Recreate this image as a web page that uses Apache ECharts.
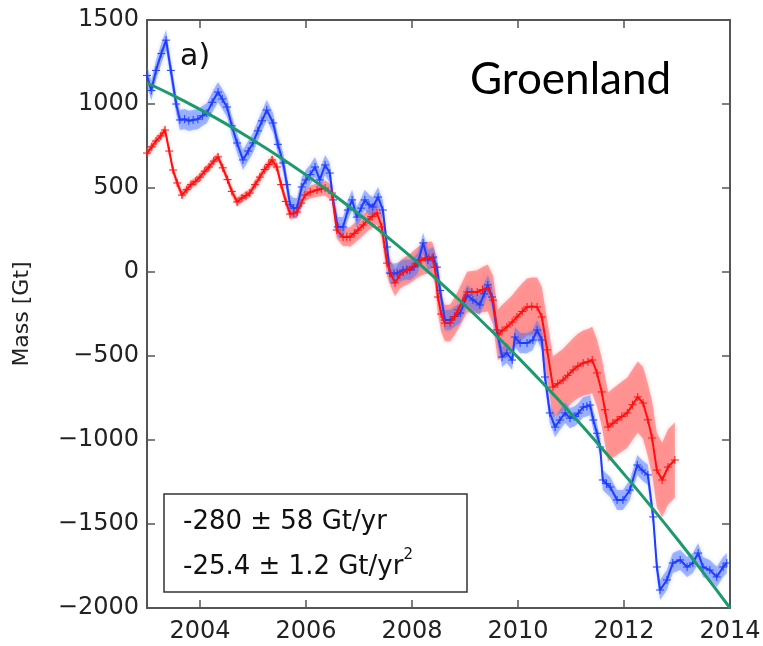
<!DOCTYPE html>
<html>
<head>
<meta charset="utf-8">
<script src="https://cdn.jsdelivr.net/npm/echarts@6/dist/echarts.min.js"></script>
<style>
  html, body { margin: 0; padding: 0; background: #fff; }
  #main { width: 763px; height: 646px; }
</style>
</head>
<body>
<div id="main"></div>
<script>
// values (decimal year, Gt)
var blueYears = [2003.00, 2003.08, 2003.17, 2003.27, 2003.36, 2003.45, 2003.55, 2003.62, 2003.71, 2003.79, 2003.87, 2003.96,
  2004.05, 2004.13, 2004.23, 2004.34, 2004.42, 2004.51, 2004.60, 2004.70, 2004.81, 2004.91,
  2005.00, 2005.09, 2005.17, 2005.26, 2005.38, 2005.47, 2005.57, 2005.64, 2005.70, 2005.77, 2005.83, 2005.92,
  2006.00, 2006.08, 2006.17, 2006.26, 2006.36, 2006.45, 2006.51, 2006.60, 2006.70, 2006.79, 2006.87, 2006.96,
  2007.04, 2007.11, 2007.19, 2007.26, 2007.36, 2007.45, 2007.53, 2007.58, 2007.66, 2007.72, 2007.83, 2007.90, 2007.96,
  2008.04, 2008.11, 2008.21, 2008.30, 2008.40, 2008.47, 2008.53, 2008.62, 2008.72, 2008.81, 2008.91,
  2009.04, 2009.15, 2009.28, 2009.36, 2009.43, 2009.51, 2009.60, 2009.70, 2009.79, 2009.89, 2009.94,
  2010.04, 2010.17, 2010.28, 2010.36, 2010.45, 2010.51, 2010.60, 2010.70, 2010.79, 2010.89, 2010.98,
  2011.06, 2011.14, 2011.23, 2011.30, 2011.36, 2011.42, 2011.49, 2011.55, 2011.60, 2011.67, 2011.74, 2011.87, 2011.98,
  2012.11, 2012.25, 2012.34, 2012.45, 2012.55, 2012.62, 2012.68, 2012.81, 2012.92,
  2013.06, 2013.19, 2013.30, 2013.40, 2013.49, 2013.62, 2013.75, 2013.87, 2013.94];
var blueMass = [1170, 1080, 1200, 1300, 1380, 1200, 1000, 905, 910, 900, 905, 910,
  930, 946, 1010, 1071, 1030, 982, 870, 768, 667, 720,
  768, 840, 900, 964, 887, 760, 649, 520, 400, 380, 381, 506,
  548, 580, 625, 548, 637, 589, 429, 268, 268, 369, 429, 327,
  380, 429, 400, 387, 446, 369, 149, -6, -10, -6, 11, 15, 11,
  30, 53, 173, 71, 89, 29, -110, -286, -286, -265, -244,
  -137, -167, -196, -130, -77, -149, -345, -506, -482, -524, -387,
  -423, -423, -405, -345, -405, -625, -839, -923, -881, -839, -870,
  -860, -840, -804, -800, -792, -881, -960, -1042, -1238, -1260, -1280, -1357, -1357,
  -1298, -1149, -1179, -1208, -1458, -1756, -1893, -1833, -1732,
  -1714, -1756, -1732, -1673, -1756, -1774, -1815, -1756, -1732];
var blueErr = 60;

var redYears = [2003.00, 2003.09, 2003.17, 2003.26, 2003.34, 2003.42, 2003.49, 2003.57, 2003.66, 2003.75, 2003.83, 2003.92,
  2004.00, 2004.09, 2004.17, 2004.26, 2004.34, 2004.43, 2004.52, 2004.60, 2004.70, 2004.79, 2004.87, 2004.94,
  2005.04, 2005.13, 2005.22, 2005.30, 2005.36, 2005.45, 2005.53, 2005.62, 2005.70, 2005.77, 2005.83, 2005.91, 2005.98,
  2006.08, 2006.21, 2006.29, 2006.36, 2006.49, 2006.58, 2006.70, 2006.77, 2006.83, 2006.91, 2006.98,
  2007.08, 2007.17, 2007.25, 2007.34, 2007.43, 2007.53, 2007.60, 2007.68, 2007.77, 2007.84, 2007.91,
  2008.00, 2008.09, 2008.17, 2008.25, 2008.32, 2008.38, 2008.43, 2008.49, 2008.55, 2008.62, 2008.72, 2008.80, 2008.87, 2008.96,
  2009.04, 2009.13, 2009.23, 2009.33, 2009.43, 2009.53, 2009.62, 2009.70, 2009.79, 2009.89, 2009.98,
  2010.08, 2010.17, 2010.26, 2010.36, 2010.45, 2010.55, 2010.66, 2010.75, 2010.85, 2010.94,
  2011.04, 2011.13, 2011.23, 2011.32, 2011.40, 2011.49, 2011.58, 2011.64, 2011.70, 2011.79, 2011.87, 2011.96,
  2012.06, 2012.16, 2012.26, 2012.36, 2012.45, 2012.53, 2012.62, 2012.72, 2012.83, 2012.96];
var redMass = [708, 745, 780, 810, 845, 720, 607, 530, 458, 490, 520, 540,
  565, 600, 625, 660, 685, 620, 550, 480, 417, 440, 455, 470,
  520, 565, 610, 640, 667, 625, 520, 420, 345, 350, 357, 410, 458,
  476, 488, 495, 500, 470, 250, 208, 210, 208, 230, 250,
  280, 310, 330, 351, 268, 53, -10, -65, -18, 0, 11,
  30, 53, 70, 83, 85, 83, 29, -149, -250, -304, -304, -265, -226, -170,
  -119, -119, -119, -105, -95, -167, -375, -350, -327, -298, -268,
  -235, -208, -205, -208, -268, -464, -685, -665, -643, -615,
  -583, -560, -542, -535, -524, -601, -714, -820, -923, -900, -881, -860,
  -839, -790, -744, -780, -880, -988, -1179, -1238, -1161, -1119];
var redErr = [25, 25, 25, 25, 25, 25, 25, 25, 25, 25, 25, 25,
  25, 25, 25, 25, 25, 25, 25, 25, 25, 25, 25, 25,
  28, 28, 28, 30, 30, 30, 30, 32, 32, 32, 34, 34, 35,
  38, 40, 42, 45, 48, 50, 55, 55, 58, 60, 60,
  62, 65, 68, 70, 72, 75, 78, 80, 82, 85, 85,
  88, 90, 92, 95, 95, 98, 100, 100, 105, 108, 110, 112, 115, 118,
  120, 125, 130, 135, 140, 145, 150, 155, 158, 160, 165,
  168, 170, 172, 175, 178, 180, 182, 184, 186, 188,
  190, 192, 194, 196, 198, 200, 202, 204, 205, 206, 207, 208,
  209, 210, 212, 214, 216, 218, 220, 222, 224, 225];

var fitYears = [2003, 2003.5, 2004, 2004.5, 2005, 2005.5, 2006, 2006.5, 2007, 2007.5, 2008, 2008.5,
  2009, 2009.5, 2010, 2010.5, 2011, 2011.5, 2012, 2012.5, 2013, 2013.5, 2014];
var fitMass = [1125, 1050, 968, 880, 785, 685, 578, 464, 344, 218, 86, -53,
  -198, -350, -508, -672, -842, -1019, -1203, -1392, -1588, -1791, -2000];

var xTicks = [2004, 2006, 2008, 2010, 2012, 2014];
var rateLines = ['-280 ± 58 Gt/yr', '-25.4 ± 1.2 Gt/yr{sup|2}'];

function pairs(xs, ys) {
  return xs.map(function (x, i) { return [x, ys[i]]; });
}

function bandSeries(xs, ys, err, fill) {
  var lo = [], hi = [];
  xs.forEach(function (x, i) {
    var e = Array.isArray(err) ? err[i] : err;
    lo.push(ys[i] - e);
    hi.push(ys[i] + e);
  });
  return {
    type: 'custom',
    silent: true,
    clip: true,
    data: xs.map(function (x, i) { return [x, lo[i], hi[i]]; }),
    encode: { x: 0, y: [1, 2] },
    renderItem: function (params, api) {
      if (params.dataIndex !== 0) return;
      var pts = [];
      for (var i = 0; i < xs.length; i++) pts.push(api.coord([xs[i], hi[i]]));
      for (var j = xs.length - 1; j >= 0; j--) pts.push(api.coord([xs[j], lo[j]]));
      return {
        type: 'polygon',
        shape: { points: pts },
        style: { fill: fill, shadowBlur: 4, shadowColor: fill }
      };
    }
  };
}

var plus = 'path://M0,5L10,5M5,0L5,10';
var tickFont = { fontFamily: 'DejaVu Sans', fontSize: 24, color: '#222' };
var frame = { show: true, onZero: false, lineStyle: { color: '#555', width: 2 } };
var tickStyle = { color: '#555', width: 1.5 };

var chart = echarts.init(document.getElementById('main'));
chart.setOption({
  animation: false,
  backgroundColor: '#fff',
  grid: { left: 147, right: 33, top: 20, bottom: 38, outerBoundsMode: 'none' },
  xAxis: [{
    type: 'value', min: 2003, max: 2014,
    axisLine: frame,
    axisTick: { inside: true, length: 8, customValues: xTicks, lineStyle: tickStyle },
    axisLabel: Object.assign({
      customValues: xTicks, margin: 12,
      formatter: function (v) { return String(v); }
    }, tickFont),
    splitLine: { show: false }
  }, {
    type: 'value', min: 2003, max: 2014, position: 'top',
    axisLine: frame,
    axisTick: { inside: true, length: 8, customValues: xTicks, lineStyle: tickStyle },
    axisLabel: { show: false },
    splitLine: { show: false }
  }],
  yAxis: [{
    type: 'value', min: -2000, max: 1500, interval: 500,
    name: 'Mass [Gt]', nameLocation: 'middle', nameGap: 114,
    nameTextStyle: { fontFamily: 'DejaVu Sans', fontSize: 22, color: '#222' },
    axisLine: frame,
    axisTick: { inside: true, length: 8, lineStyle: tickStyle },
    axisLabel: Object.assign({
      margin: 8,
      formatter: function (v) { return v < 0 ? '\u2212' + Math.abs(v) : String(v); }
    }, tickFont),
    splitLine: { show: false }
  }, {
    type: 'value', min: -2000, max: 1500, interval: 500, position: 'right',
    axisLine: frame,
    axisTick: { inside: true, length: 8, lineStyle: tickStyle },
    axisLabel: { show: false },
    splitLine: { show: false }
  }],
  series: [
    bandSeries(redYears, redMass, redErr, 'rgba(255,95,95,0.55)'),
    bandSeries(blueYears, blueMass, blueErr, 'rgba(70,110,255,0.45)'),
    {
      type: 'line', name: 'blue', data: pairs(blueYears, blueMass),
      symbol: plus, symbolSize: 8, showSymbol: true,
      lineStyle: { color: '#1f3dff', width: 2 },
      itemStyle: { color: '#1f3dff', borderColor: '#1f3dff', borderWidth: 1 },
      emphasis: { disabled: true }, z: 3
    },
    {
      type: 'line', name: 'red', data: pairs(redYears, redMass),
      symbol: plus, symbolSize: 8, showSymbol: true,
      lineStyle: { color: '#ff1010', width: 2 },
      itemStyle: { color: '#ff1010', borderColor: '#ff1010', borderWidth: 1 },
      emphasis: { disabled: true }, z: 4
    },
    {
      type: 'line', name: 'fit', data: pairs(fitYears, fitMass),
      smooth: true, showSymbol: false,
      lineStyle: { color: '#1b9a6c', width: 3 },
      emphasis: { disabled: true }, z: 5
    }
  ],
  graphic: [
    { type: 'text', left: 180, top: 42, z: 10,
      style: { text: 'a)', fontFamily: 'DejaVu Sans', fontSize: 30, fill: '#111' } },
    { type: 'text', x: 470, y: 80, z: 10,
      style: { text: 'Groenland', fontFamily: 'Lato', fontSize: 44, fill: '#000', verticalAlign: 'middle' } },
    { type: 'rect', z: 10,
      shape: { x: 164, y: 494, width: 303, height: 98 },
      style: { fill: '#fff', stroke: '#333', lineWidth: 1.5 } },
    { type: 'text', x: 183, y: 522, z: 11,
      style: { text: rateLines[0], fontFamily: 'DejaVu Sans', fontSize: 26, fill: '#111', verticalAlign: 'middle' } },
    { type: 'text', x: 183, y: 567, z: 11,
      style: {
        text: rateLines[1], fontFamily: 'DejaVu Sans', fontSize: 26, fill: '#111',
        verticalAlign: 'middle', lineHeight: 38,
        rich: { sup: { fontFamily: 'DejaVu Sans', fontSize: 15, fill: '#111', verticalAlign: 'top', lineHeight: 18 } }
      } }
  ]
});
</script>
</body>
</html>
